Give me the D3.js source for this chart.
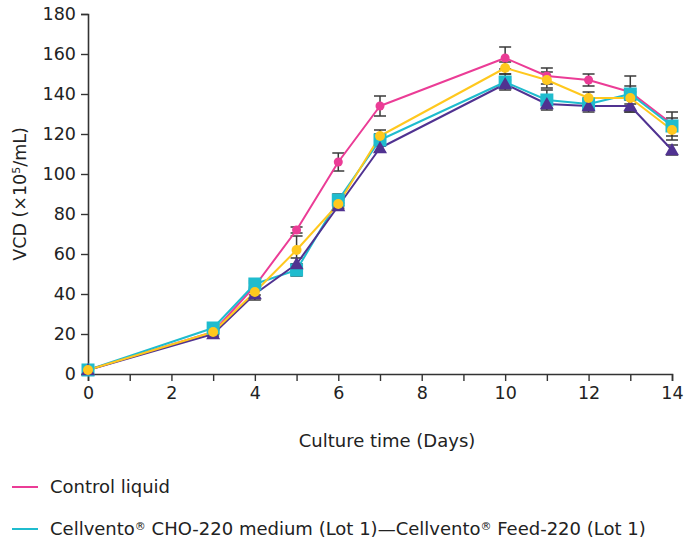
<!DOCTYPE html>
<html>
<head>
<meta charset="utf-8">
<script src="https://cdn.jsdelivr.net/npm/d3@7"></script>
<style>
  body { margin: 0; background: #fff; }
  svg { display: block; font-family: "DejaVu Sans", sans-serif; }
</style>
</head>
<body>
<svg id="chart" width="684" height="543"></svg>
<script>
// culture days sampled
const days = [0, 3, 4, 5, 6, 7, 10, 11, 12, 13, 14];

// VCD (x10^5/mL) per series
const controlVals = [2, 21, 44, 72, 106, 134, 158, 149, 147, 141, 125];
const controlErr  = [0.5, 1, 1.5, 1.5, 4.5, 5, 5.5, 4, 3, 3, 3];
const lot1Vals    = [2, 23, 45, 52, 87, 117, 146, 137, 135, 140, 124];
const lot1Err     = [0.5, 1, 1.5, 3, 3, 3, 4, 5, 3, 9, 7];
const purpleVals  = [2, 20, 40, 55, 84, 113, 145, 135, 134, 134, 112];
const purpleErr   = [0.5, 1, 3, 3, 1.5, 2, 2, 2, 3, 3, 2.5];
const yellowVals  = [2, 21, 41, 62, 85, 119, 153, 147, 138, 138, 122];
const yellowErr   = [0.5, 1, 1.5, 7, 2, 3, 3, 4, 3, 3, 3];

const legendNames = [
    "Control liquid",
    "Cellvento\u00AE CHO-220 medium (Lot 1)\u2014Cellvento\u00AE Feed-220 (Lot 1)"
];

const yTicks = [0, 20, 40, 60, 80, 100, 120, 140, 160, 180];
const xTicks = d3.range(0, 15);

// draw order matters: yellow circles sit on top
let series = [
    {vals: controlVals, err: controlErr, color: "#EB3C96", shape: "circle", size: 4.5},
    {vals: lot1Vals, err: lot1Err, color: "#1FBCCE", shape: "square", size: 6.5},
    {vals: purpleVals, err: purpleErr, color: "#503291", shape: "triangle", size: 7},
    {vals: yellowVals, err: yellowErr, color: "#FFC81E", shape: "circle", size: 5}
];

let svg = d3.select("#chart");

let x = d3.scaleLinear().domain([0, 14]).range([88, 672]);
let y = d3.scaleLinear().domain([0, 180]).range([374, 14]);

// axes
let xAxis = svg.append("g")
    .attr("transform", "translate(0," + y(0) + ")")
    .call(d3.axisBottom(x).tickValues(xTicks).tickSize(7).tickPadding(6)
        .tickFormat(d => d % 2 === 0 ? d : ""));
let yAxis = svg.append("g")
    .attr("transform", "translate(" + x(0) + ",0)")
    .call(d3.axisLeft(y).tickValues(yTicks).tickSize(7).tickPadding(5));

[xAxis, yAxis].forEach(ax => {
    ax.select(".domain").attr("stroke", "#333").attr("stroke-width", 1.6);
    ax.selectAll(".tick line").attr("stroke", "#333").attr("stroke-width", 1.4);
    ax.selectAll(".tick text").attr("fill", "#222").style("font-size", "17.5px")
        .style("font-family", "DejaVu Sans, sans-serif");
});

// axis titles
svg.append("text")
    .attr("x", 387).attr("y", 447)
    .attr("text-anchor", "middle")
    .attr("fill", "#222")
    .style("font-size", "18px")
    .text("Culture time (Days)");

let yTitle = svg.append("text")
    .attr("transform", "translate(26,194) rotate(-90)")
    .attr("text-anchor", "middle")
    .attr("fill", "#222")
    .style("font-size", "17.5px");
yTitle.append("tspan").text("VCD (\u00D710");
yTitle.append("tspan").attr("dy", -6).style("font-size", "11px").text("5");
yTitle.append("tspan").attr("dy", 6).text("/mL)");

// error bars
let capW = 6;
series.forEach(s => {
    let g = svg.append("g").attr("stroke", "#3a3a3a").attr("stroke-width", 1.5);
    days.forEach((d, i) => {
        let cx = x(d), lo = y(s.vals[i] - s.err[i]), hi = y(s.vals[i] + s.err[i]);
        if (lo - hi < 2) return;
        g.append("line").attr("x1", cx).attr("x2", cx).attr("y1", lo).attr("y2", hi);
        g.append("line").attr("x1", cx - capW).attr("x2", cx + capW).attr("y1", lo).attr("y2", lo);
        g.append("line").attr("x1", cx - capW).attr("x2", cx + capW).attr("y1", hi).attr("y2", hi);
    });
});

// lines
let line = d3.line()
    .x((d, i) => x(days[i]))
    .y(d => y(d));

series.forEach(s => {
    svg.append("path")
        .datum(s.vals)
        .attr("fill", "none")
        .attr("stroke", s.color)
        .attr("stroke-width", 2)
        .attr("stroke-linejoin", "round")
        .attr("d", line);
});

// markers
series.forEach(s => {
    let g = svg.append("g").attr("fill", s.color);
    s.vals.forEach((v, i) => {
        let cx = x(days[i]), cy = y(v), r = s.size;
        if (s.shape === "circle") {
            g.append("circle").attr("cx", cx).attr("cy", cy).attr("r", r);
        } else if (s.shape === "square") {
            g.append("rect").attr("x", cx - r).attr("y", cy - r).attr("width", 2 * r).attr("height", 2 * r);
        } else {
            g.append("path").attr("d", `M${cx},${cy - r}L${cx + r},${cy + r * 0.75}L${cx - r},${cy + r * 0.75}Z`);
        }
    });
});

// legend (only the first two items fit in the frame)
legendNames.forEach((name, i) => {
    let ly = 487 + i * 42;
    svg.append("line")
        .attr("x1", 12).attr("x2", 38)
        .attr("y1", ly).attr("y2", ly)
        .attr("stroke", series[i].color)
        .attr("stroke-width", 2);
    let t = svg.append("text")
        .attr("x", 50).attr("y", ly + 6)
        .attr("fill", "#222")
        .style("font-size", "18px");
    // shrink the ® marks like the original
    let shift = 0;
    name.split(/(\u00AE)/).forEach(part => {
        if (part === "") return;
        if (part === "\u00AE") {
            t.append("tspan").attr("dy", -5).style("font-size", "11px").text(part);
            shift = 5;
        } else {
            t.append("tspan").attr("dy", shift).text(part);
            shift = 0;
        }
    });
});
</script>
</body>
</html>
